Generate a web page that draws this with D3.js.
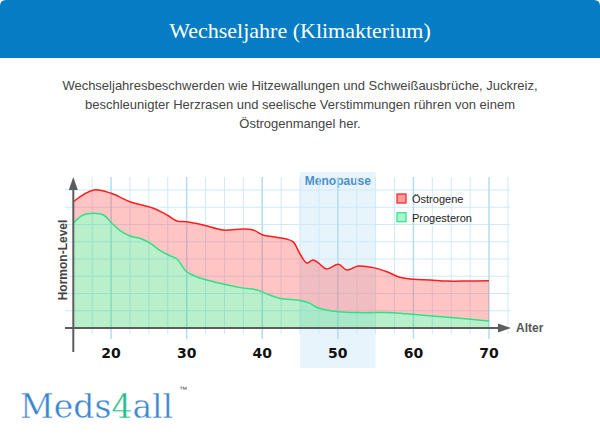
<!DOCTYPE html>
<html>
<head>
<meta charset="utf-8">
<script src="https://cdn.jsdelivr.net/npm/d3@7"></script>
<style>
  body { margin: 0; background: #fff; }
  svg { display: block; }
</style>
</head>
<body>
<svg id="chart" width="600" height="440"></svg>
<script>
// ages + hormone levels (grid units, 0 = x axis)
const estrogenAges = [15, 17.7, 20, 22.5, 25.6, 27.4, 28.7, 30, 32.2, 34.8, 37.5, 38.8, 40.1, 41.4, 43.2, 44.1, 45, 45.9, 46.7, 47.5, 48.5, 50.1, 51.2, 52.7, 54.7, 56.5, 58.2, 60, 62.2, 64.4, 67.1, 70];
const estrogenLevels = [7.32, 8.0, 7.81, 7.32, 6.94, 6.55, 6.2, 6.16, 5.97, 5.68, 5.74, 5.68, 5.39, 5.29, 5.16, 4.99, 4.29, 3.77, 3.94, 3.75, 3.42, 3.69, 3.36, 3.59, 3.5, 3.26, 2.94, 2.82, 2.78, 2.72, 2.72, 2.74];

const progesteronAges = [15, 16.3, 17.7, 19, 20.1, 21.2, 22.5, 23.8, 25.2, 26.5, 27.8, 28.7, 30, 31.3, 34.4, 37.1, 39.3, 41, 42.4, 45, 46.3, 47.4, 50.1, 53.4, 57.3, 60.9, 65.3, 70];
const progesteronLevels = [6.07, 6.55, 6.65, 6.55, 6.07, 5.64, 5.33, 5.2, 4.91, 4.48, 4.19, 4.0, 3.26, 2.97, 2.59, 2.34, 2.2, 1.91, 1.71, 1.59, 1.43, 1.16, 0.94, 0.89, 0.89, 0.75, 0.6, 0.41];

const xTicks = [20, 30, 40, 50, 60, 70];
const gridAges = d3.range(17.5, 72.6, 2.5);
const gridLevels = [1, 2, 3, 4, 5, 6, 7, 8];
const menopause = [45, 55];
const legendItems = ['Östrogene', 'Progesteron'];

const title = 'Wechseljahre (Klimakterium)';
const introLines = [
  'Wechseljahresbeschwerden wie Hitzewallungen und Schweißausbrüche, Juckreiz,',
  'beschleunigter Herzrasen und seelische Verstimmungen rühren von einem',
  'Östrogenmangel her.'
];

const svg = d3.select('#chart');

// header
svg.append('path')
  .attr('d', 'M0,6 Q0,0 6,0 H594 Q600,0 600,6 V58 H0 Z')
  .attr('fill', '#057cc4');
svg.append('text')
  .attr('x', 300).attr('y', 38)
  .attr('text-anchor', 'middle')
  .attr('fill', '#fff')
  .style('font', '22px "Liberation Serif", serif')
  .text(title);

svg.append('g')
  .selectAll('text')
  .data(introLines)
  .join('text')
  .attr('x', 300)
  .attr('y', (d, i) => 90 + i * 19)
  .attr('text-anchor', 'middle')
  .attr('fill', '#444')
  .style('font', '13px "Liberation Sans", Arial, sans-serif')
  .text(d => d);

const x = d3.scaleLinear().domain([15, 70]).range([73.3, 489]);
const y = d3.scaleLinear().domain([0, 8]).range([328, 190]);

const plot = svg.append('g');

// menopause band
plot.append('rect')
  .attr('x', x(menopause[0]))
  .attr('y', 172)
  .attr('width', x(menopause[1]) - x(menopause[0]))
  .attr('height', 196)
  .attr('fill', '#e7f4fb');
plot.append('text')
  .attr('x', x(d3.mean(menopause)))
  .attr('y', 185)
  .attr('text-anchor', 'middle')
  .attr('fill', '#4a90cc')
  .style('font', 'bold 12px "Liberation Sans", Arial, sans-serif')
  .text('Menopause');

// grid
plot.append('g')
  .selectAll('line')
  .data(gridLevels)
  .join('line')
  .attr('x1', 65).attr('x2', 510)
  .attr('y1', d => y(d)).attr('y2', d => y(d))
  .attr('stroke', '#cfe9f7')
  .attr('stroke-width', 1);
plot.append('g')
  .selectAll('line')
  .data(gridAges)
  .join('line')
  .attr('x1', d => x(d)).attr('x2', d => x(d))
  .attr('y1', 177)
  .attr('y2', d => (d % 10 === 0 ? 339 : 334))
  .attr('stroke', d => (d % 10 === 0 ? '#b3ddf2' : '#cfe9f7'))
  .attr('stroke-width', d => (d % 10 === 0 ? 1.5 : 1));

const estrogen = estrogenAges.map((a, i) => ({ age: a, v: estrogenLevels[i] }));
const progesteron = progesteronAges.map((a, i) => ({ age: a, v: progesteronLevels[i] }));

const curve = d3.curveCatmullRom.alpha(0.5);
const area = d3.area()
  .x(d => x(d.age))
  .y0(y(0))
  .y1(d => y(d.v))
  .curve(curve);
const line = d3.line()
  .x(d => x(d.age))
  .y(d => y(d.v))
  .curve(curve);

// keep the pink fill out from under the green one
const defs = svg.append('defs');
const mask = defs.append('mask').attr('id', 'no-green');
mask.append('rect').attr('width', 600).attr('height', 440).attr('fill', '#fff');
mask.append('path').attr('d', area(progesteron)).attr('fill', '#000');

plot.append('path')
  .attr('d', area(estrogen))
  .attr('mask', 'url(#no-green)')
  .attr('fill', 'rgb(255,80,80)')
  .attr('fill-opacity', 0.33);
plot.append('path')
  .attr('d', area(progesteron))
  .attr('fill', 'rgb(60,210,110)')
  .attr('fill-opacity', 0.36);

plot.append('path')
  .attr('d', line(estrogen))
  .attr('fill', 'none')
  .attr('stroke', '#ff1c1c')
  .attr('stroke-width', 1.5);
plot.append('path')
  .attr('d', line(progesteron))
  .attr('fill', 'none')
  .attr('stroke', '#30e088')
  .attr('stroke-width', 1.5);

// axes with arrows
const axisColor = '#5c5c5c';
plot.append('line')
  .attr('x1', x(15)).attr('x2', x(15))
  .attr('y1', 352).attr('y2', 186)
  .attr('stroke', axisColor).attr('stroke-width', 2);
plot.append('path')
  .attr('d', `M${x(15) - 4.5},190 L${x(15)},177 L${x(15) + 4.5},190 Z`)
  .attr('fill', axisColor);
plot.append('line')
  .attr('x1', 65).attr('x2', 502)
  .attr('y1', y(0)).attr('y2', y(0))
  .attr('stroke', axisColor).attr('stroke-width', 2);
plot.append('path')
  .attr('d', `M498,${y(0) - 4.5} L511,${y(0)} L498,${y(0) + 4.5} Z`)
  .attr('fill', axisColor);

plot.append('g')
  .selectAll('text')
  .data(xTicks)
  .join('text')
  .attr('x', d => x(d))
  .attr('y', 358)
  .attr('text-anchor', 'middle')
  .attr('fill', '#111')
  .style('font', 'bold 14px "DejaVu Sans", Verdana, sans-serif')
  .text(d => d);

plot.append('text')
  .attr('x', 516).attr('y', y(0) + 4)
  .attr('fill', '#555')
  .style('font', 'bold 12px "Liberation Sans", Arial, sans-serif')
  .text('Alter');
plot.append('text')
  .attr('transform', 'translate(67,260) rotate(-90)')
  .attr('text-anchor', 'middle')
  .attr('fill', '#444')
  .style('font', 'bold 12px "Liberation Sans", Arial, sans-serif')
  .text('Hormon-Level');

// legend
const legendFill = ['#ff9c9c', '#a6f5cc'];
const legendStroke = ['#ff2a2a', '#3ee08e'];
const legend = plot.append('g')
  .selectAll('g')
  .data(legendItems)
  .join('g')
  .attr('transform', (d, i) => `translate(397,${194 + i * 18.7})`);
legend.append('rect')
  .attr('width', 9).attr('height', 9)
  .attr('fill', (d, i) => legendFill[i])
  .attr('stroke', (d, i) => legendStroke[i])
  .attr('stroke-width', 1.3);
legend.append('text')
  .attr('x', 15).attr('y', 9)
  .attr('fill', '#222')
  .style('font', '11px "Liberation Sans", Arial, sans-serif')
  .text(d => d);

// logo (thin white stroke lightens the heavy serif a little)
const logo = svg.append('text')
  .attr('x', 20).attr('y', 418)
  .style('font', '33px "DejaVu Serif", serif')
  .attr('fill', '#3c86d0')
  .attr('stroke', '#fff')
  .attr('stroke-width', 0.4);
logo.append('tspan').text('Meds');
logo.append('tspan').attr('fill', '#22bd8a').text('4');
logo.append('tspan').text('all');
svg.append('text')
  .attr('x', 179).attr('y', 392)
  .attr('fill', '#555')
  .style('font', '8px "Liberation Sans", Arial, sans-serif')
  .text('™');
</script>
</body>
</html>
